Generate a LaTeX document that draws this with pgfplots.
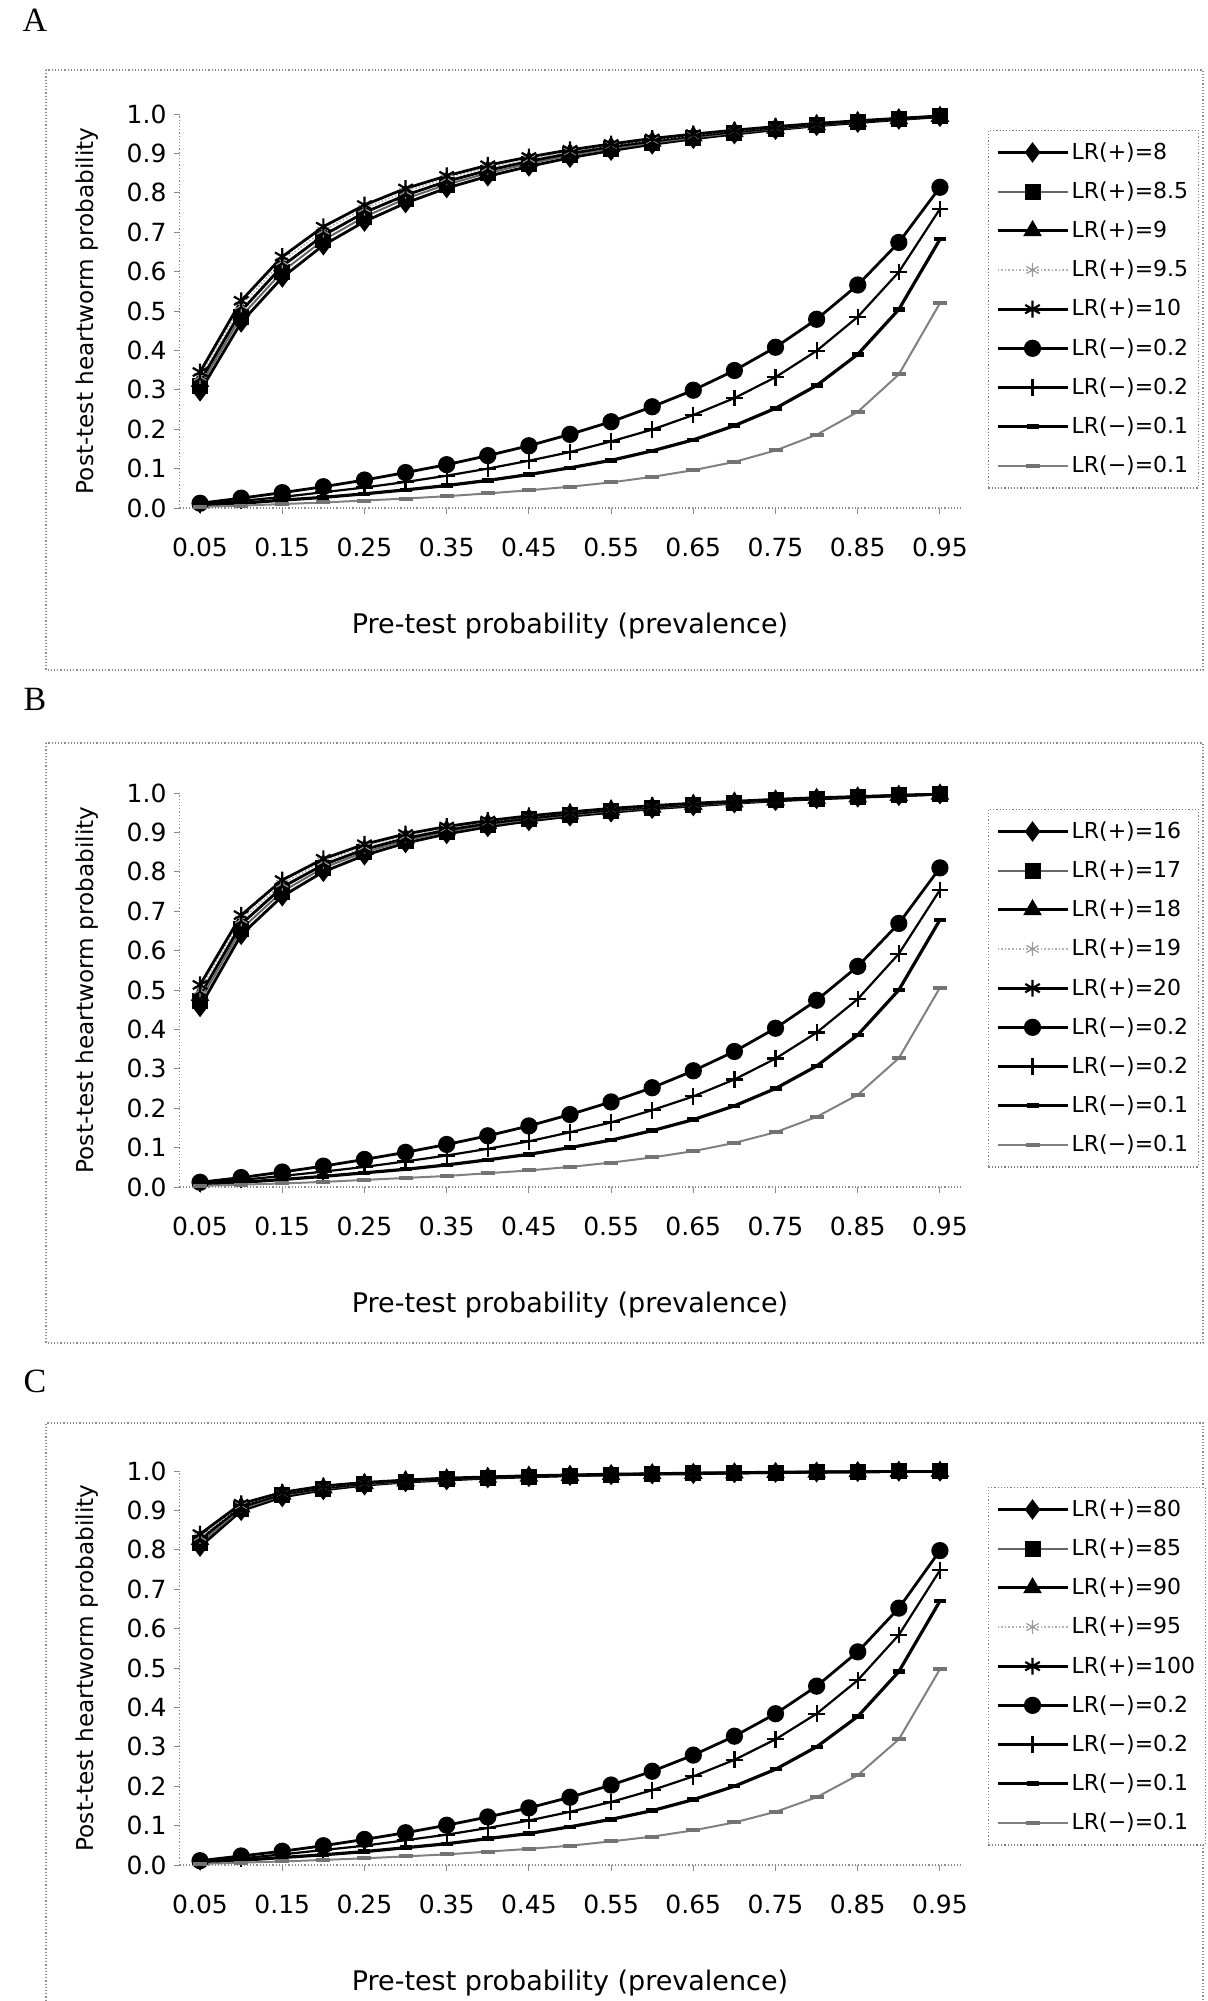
\documentclass[border=0pt]{standalone}
\usepackage{fontspec}
\setmainfont{DejaVu Sans}
\newfontfamily\letterfont{Liberation Serif}
\usepackage{pgfplots}
\usepackage{pgfplotstable}
\pgfplotsset{compat=1.18}

% columns: c1..c5 = LR(+) series, c6..c9 = LR(-) series
\pgfplotstableread{
p    c1    c2    c3    c4    c5    c6    c7    c8    c9
0.05 0.296 0.309 0.321 0.333 0.345 0.012 0.009 0.006 0.003
0.10 0.471 0.486 0.500 0.514 0.526 0.025 0.018 0.012 0.006
0.15 0.585 0.600 0.614 0.626 0.638 0.039 0.028 0.020 0.010
0.20 0.667 0.680 0.692 0.704 0.714 0.054 0.040 0.027 0.014
0.25 0.727 0.739 0.750 0.760 0.769 0.071 0.052 0.036 0.019
0.30 0.774 0.785 0.794 0.803 0.811 0.090 0.066 0.046 0.024
0.35 0.812 0.821 0.829 0.837 0.843 0.110 0.082 0.057 0.030
0.40 0.842 0.850 0.857 0.864 0.870 0.133 0.100 0.070 0.037
0.45 0.867 0.874 0.880 0.886 0.891 0.158 0.120 0.085 0.045
0.50 0.889 0.895 0.900 0.905 0.909 0.187 0.142 0.102 0.054
0.55 0.907 0.912 0.917 0.921 0.924 0.219 0.169 0.121 0.065
0.60 0.923 0.927 0.931 0.934 0.938 0.257 0.199 0.145 0.079
0.65 0.937 0.940 0.944 0.946 0.949 0.299 0.236 0.173 0.096
0.70 0.949 0.952 0.955 0.957 0.959 0.349 0.279 0.209 0.117
0.75 0.960 0.962 0.964 0.966 0.968 0.408 0.332 0.253 0.146
0.80 0.970 0.971 0.973 0.974 0.976 0.479 0.399 0.311 0.186
0.85 0.978 0.980 0.981 0.982 0.983 0.566 0.485 0.390 0.244
0.90 0.986 0.987 0.988 0.988 0.989 0.674 0.599 0.504 0.339
0.95 0.993 0.994 0.994 0.995 0.995 0.814 0.759 0.682 0.520
}\tabA

\pgfplotstableread{
p    c1    c2    c3    c4    c5    c6    c7    c8    c9
0.05 0.457 0.472 0.486 0.500 0.513 0.012 0.008 0.006 0.003
0.10 0.640 0.654 0.667 0.679 0.690 0.024 0.018 0.012 0.006
0.15 0.738 0.750 0.761 0.770 0.779 0.038 0.028 0.019 0.009
0.20 0.800 0.810 0.818 0.826 0.833 0.053 0.039 0.027 0.013
0.25 0.842 0.850 0.857 0.864 0.870 0.070 0.051 0.036 0.018
0.30 0.873 0.879 0.885 0.891 0.896 0.088 0.065 0.045 0.023
0.35 0.896 0.902 0.906 0.911 0.915 0.108 0.080 0.056 0.028
0.40 0.914 0.919 0.923 0.927 0.930 0.130 0.097 0.069 0.035
0.45 0.929 0.933 0.936 0.940 0.942 0.155 0.116 0.083 0.042
0.50 0.941 0.944 0.947 0.950 0.952 0.184 0.139 0.100 0.051
0.55 0.951 0.954 0.957 0.959 0.961 0.216 0.164 0.119 0.062
0.60 0.960 0.962 0.964 0.966 0.968 0.252 0.195 0.143 0.075
0.65 0.967 0.969 0.971 0.972 0.974 0.295 0.230 0.171 0.091
0.70 0.974 0.975 0.977 0.978 0.979 0.344 0.273 0.206 0.112
0.75 0.980 0.981 0.982 0.983 0.984 0.403 0.326 0.250 0.139
0.80 0.985 0.986 0.986 0.987 0.988 0.474 0.392 0.307 0.178
0.85 0.989 0.990 0.990 0.991 0.991 0.560 0.477 0.386 0.234
0.90 0.993 0.994 0.994 0.994 0.994 0.669 0.592 0.500 0.327
0.95 0.997 0.997 0.997 0.997 0.997 0.810 0.754 0.678 0.506
}\tabB

\pgfplotstableread{
p    c1    c2    c3    c4    c5    c6    c7    c8    c9
0.05 0.808 0.817 0.826 0.833 0.840 0.011 0.008 0.006 0.003
0.10 0.899 0.904 0.909 0.913 0.917 0.023 0.017 0.012 0.006
0.15 0.934 0.938 0.941 0.944 0.946 0.035 0.027 0.019 0.009
0.20 0.952 0.955 0.957 0.960 0.962 0.049 0.038 0.026 0.013
0.25 0.964 0.966 0.968 0.969 0.971 0.065 0.049 0.034 0.017
0.30 0.972 0.973 0.975 0.976 0.977 0.082 0.063 0.044 0.022
0.35 0.977 0.979 0.980 0.981 0.982 0.101 0.077 0.054 0.027
0.40 0.982 0.983 0.984 0.984 0.985 0.122 0.094 0.067 0.034
0.45 0.985 0.986 0.987 0.987 0.988 0.145 0.113 0.080 0.041
0.50 0.988 0.988 0.989 0.990 0.990 0.172 0.135 0.097 0.049
0.55 0.990 0.990 0.991 0.991 0.992 0.203 0.160 0.116 0.060
0.60 0.992 0.992 0.993 0.993 0.993 0.238 0.190 0.138 0.072
0.65 0.993 0.994 0.994 0.994 0.995 0.279 0.225 0.166 0.088
0.70 0.995 0.995 0.995 0.996 0.996 0.327 0.267 0.200 0.108
0.75 0.996 0.996 0.996 0.997 0.997 0.384 0.319 0.243 0.135
0.80 0.997 0.997 0.997 0.997 0.998 0.454 0.384 0.300 0.172
0.85 0.998 0.998 0.998 0.998 0.998 0.541 0.469 0.377 0.228
0.90 0.999 0.999 0.999 0.999 0.999 0.652 0.584 0.491 0.319
0.95 0.999 0.999 0.999 0.999 0.999 0.798 0.748 0.670 0.497
}\tabC

\pgfplotsset{
  heartworm/.style={
    scale only axis, width=390.5pt, height=197pt,
    xmin=0.025, xmax=0.975, ymin=0, ymax=1,
    axis x line*=bottom, axis y line*=left,
    axis line style={-, black!45, densely dotted, line width=0.6pt},
    xtick={0.05,0.15,0.25,0.35,0.45,0.55,0.65,0.75,0.85,0.95},
    xticklabels={0.05,0.15,0.25,0.35,0.45,0.55,0.65,0.75,0.85,0.95},
    ytick={0,0.1,0.2,0.3,0.4,0.5,0.6,0.7,0.8,0.9,1},
    yticklabels={0.0,0.1,0.2,0.3,0.4,0.5,0.6,0.7,0.8,0.9,1.0},
    tick style={black!45, line width=0.5pt},
    major tick length=3pt, tick align=outside,
    xticklabel style={font=\fontsize{12.5}{14}\selectfont, anchor=center, yshift=-16.5pt},
    yticklabel style={font=\fontsize{12.5}{14}\selectfont},
    xlabel={Pre-test probability (prevalence)},
    ylabel={Post-test heartworm probability},
    xlabel style={at={(axis description cs:0.5,-0.3)}, anchor=center,
      font=\fontsize{13.5}{16}\selectfont},
    ylabel style={at={(axis description cs:-0.1185,0.5)}, anchor=center,
      font=\fontsize{11.6}{14}\selectfont},
    legend style={at={(axis description cs:1.035,0.96)}, anchor=north west,
      draw=black!50, densely dotted, line width=0.6pt,
      inner xsep=3.75pt, inner ysep=2.45pt, row sep=2.4pt,
      font=\fontsize{11}{13}\selectfont,
      nodes={inner xsep=1.25pt, inner ysep=3.67pt}},
    legend cell align=left,
    legend image code/.code={\draw[mark repeat=2,mark phase=2,##1]
      plot coordinates {(0pt,0pt) (17.5pt,0pt) (35pt,0pt)};},
    clip=false,
  },
  s1/.style={solid, black, line width=1.4pt, mark=diamond*, mark size=4pt,
    mark options={solid, fill=black}},
  s2/.style={solid, black!60, line width=1pt, mark=square*, mark size=3.5pt,
    mark options={solid, fill=black, draw=black}},
  s3/.style={solid, black, line width=1.4pt, mark=triangle*, mark size=4pt,
    mark options={solid, fill=black}},
  s4/.style={densely dotted, black!30, line width=0.8pt, mark=asterisk, mark size=3.5pt,
    mark options={solid, black!40, line width=0.6pt}},
  s5/.style={solid, black, line width=1.4pt, mark=asterisk, mark size=4.2pt,
    mark options={solid, line width=1.1pt}},
  s6/.style={solid, black, line width=1.4pt, mark=*, mark size=3.6pt,
    mark options={solid, fill=black}},
  s7/.style={solid, black, line width=1.1pt, mark=+, mark size=4.2pt,
    mark options={solid, line width=1.1pt}},
  s8/.style={solid, black, line width=1.6pt, mark=-, mark size=3pt,
    mark options={solid, line width=2.2pt}},
  s9/.style={solid, black!50, line width=1pt, mark=-, mark size=3.5pt,
    mark options={solid, black!55, line width=2pt}},
}

\begin{document}
\begin{tikzpicture}
\path[use as bounding box] (0pt,0pt) rectangle (604pt,-1000.5pt);

% chart area frames and panel letters
\draw[black!45, densely dotted, line width=0.6pt] (23pt,-35pt) rectangle (601.5pt,-335pt);
\draw[black!45, densely dotted, line width=0.6pt] (23pt,-371.5pt) rectangle (601.5pt,-671.5pt);
\draw[black!45, densely dotted, line width=0.6pt] (23pt,-1010pt) -- (23pt,-711.5pt) -- (601.5pt,-711.5pt) -- (601.5pt,-1010pt);
\node[font=\letterfont\fontsize{17}{20}\selectfont] at (17.5pt,-10pt) {A};
\node[font=\letterfont\fontsize{17}{20}\selectfont] at (17.5pt,-349.5pt) {B};
\node[font=\letterfont\fontsize{17}{20}\selectfont] at (17.5pt,-690.5pt) {C};

% panel A
\begin{axis}[heartworm, at={(89.75pt,-254pt)}, anchor=south west]
  \addplot[s1] table[x=p, y=c1] {\tabA}; \addlegendentry{LR(+)=8}
  \addplot[s2] table[x=p, y=c2] {\tabA}; \addlegendentry{LR(+)=8.5}
  \addplot[s3] table[x=p, y=c3] {\tabA}; \addlegendentry{LR(+)=9}
  \addplot[s4] table[x=p, y=c4] {\tabA}; \addlegendentry{LR(+)=9.5}
  \addplot[s5] table[x=p, y=c5] {\tabA}; \addlegendentry{LR(+)=10}
  \addplot[s6] table[x=p, y=c6] {\tabA}; \addlegendentry{LR(−)=0.2}
  \addplot[s7] table[x=p, y=c7] {\tabA}; \addlegendentry{LR(−)=0.2}
  \addplot[s8] table[x=p, y=c8] {\tabA}; \addlegendentry{LR(−)=0.1}
  \addplot[s9] table[x=p, y=c9] {\tabA}; \addlegendentry{LR(−)=0.1}
\end{axis}

% panel B
\begin{axis}[heartworm, at={(89.75pt,-593.5pt)}, anchor=south west]
  \addplot[s1] table[x=p, y=c1] {\tabB}; \addlegendentry{LR(+)=16}
  \addplot[s2] table[x=p, y=c2] {\tabB}; \addlegendentry{LR(+)=17}
  \addplot[s3] table[x=p, y=c3] {\tabB}; \addlegendentry{LR(+)=18}
  \addplot[s4] table[x=p, y=c4] {\tabB}; \addlegendentry{LR(+)=19}
  \addplot[s5] table[x=p, y=c5] {\tabB}; \addlegendentry{LR(+)=20}
  \addplot[s6] table[x=p, y=c6] {\tabB}; \addlegendentry{LR(−)=0.2}
  \addplot[s7] table[x=p, y=c7] {\tabB}; \addlegendentry{LR(−)=0.2}
  \addplot[s8] table[x=p, y=c8] {\tabB}; \addlegendentry{LR(−)=0.1}
  \addplot[s9] table[x=p, y=c9] {\tabB}; \addlegendentry{LR(−)=0.1}
\end{axis}

% panel C
\begin{axis}[heartworm, at={(89.75pt,-932.5pt)}, anchor=south west]
  \addplot[s1] table[x=p, y=c1] {\tabC}; \addlegendentry{LR(+)=80}
  \addplot[s2] table[x=p, y=c2] {\tabC}; \addlegendentry{LR(+)=85}
  \addplot[s3] table[x=p, y=c3] {\tabC}; \addlegendentry{LR(+)=90}
  \addplot[s4] table[x=p, y=c4] {\tabC}; \addlegendentry{LR(+)=95}
  \addplot[s5] table[x=p, y=c5] {\tabC}; \addlegendentry{LR(+)=100}
  \addplot[s6] table[x=p, y=c6] {\tabC}; \addlegendentry{LR(−)=0.2}
  \addplot[s7] table[x=p, y=c7] {\tabC}; \addlegendentry{LR(−)=0.2}
  \addplot[s8] table[x=p, y=c8] {\tabC}; \addlegendentry{LR(−)=0.1}
  \addplot[s9] table[x=p, y=c9] {\tabC}; \addlegendentry{LR(−)=0.1}
\end{axis}
\end{tikzpicture}
\end{document}
